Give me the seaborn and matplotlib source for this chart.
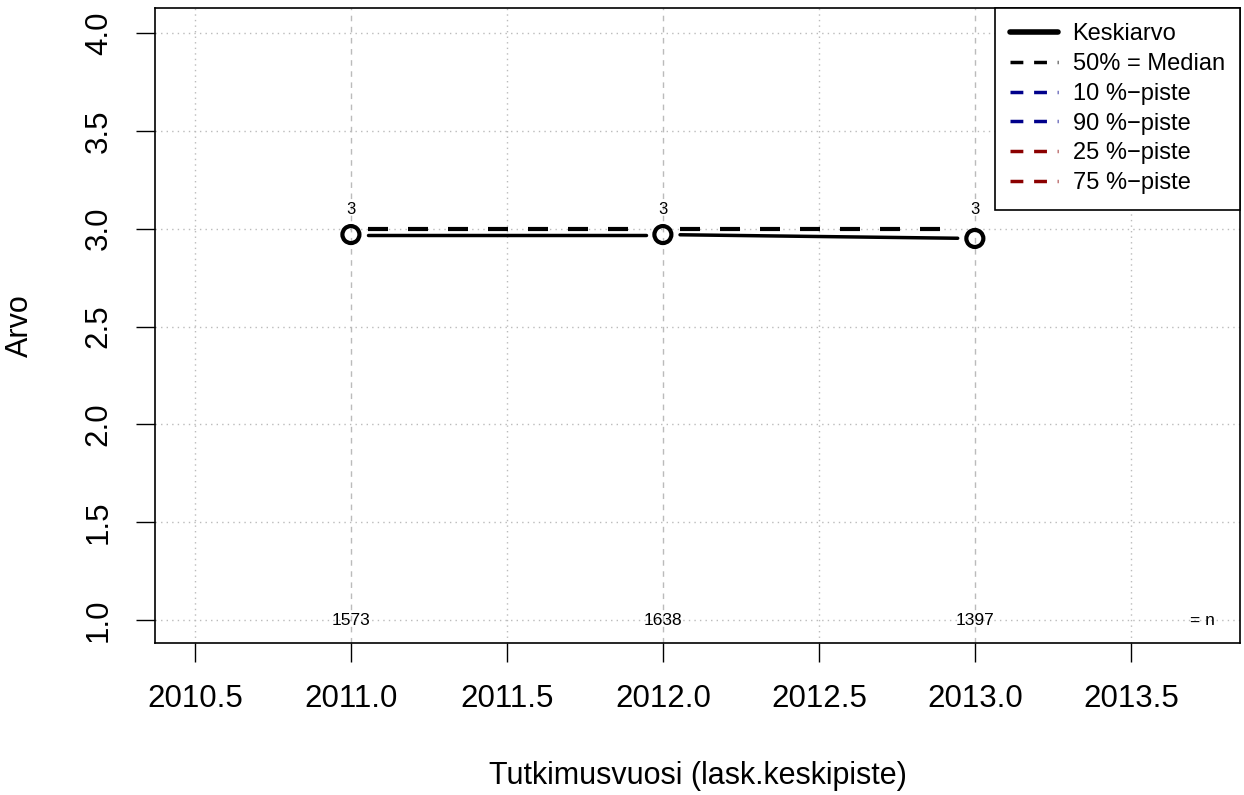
import numpy as np
import pandas as pd
import matplotlib
matplotlib.use("Agg")
import matplotlib.pyplot as plt
import seaborn as sns
from matplotlib.lines import Line2D

years = [2011, 2012, 2013]
mean_vals = [2.97, 2.97, 2.95]
median_vals = [3.0, 3.0, 3.0]
n_counts = [1573, 1638, 1397]
median_labels = ["3", "3", "3"]
x_ticks = [2010.5, 2011.0, 2011.5, 2012.0, 2012.5, 2013.0, 2013.5]
y_ticks = [1.0, 1.5, 2.0, 2.5, 3.0, 3.5, 4.0]
legend_labels = ["Keskiarvo", "50% = Median", "10 %\u2212piste", "90 %\u2212piste",
                 "25 %\u2212piste", "75 %\u2212piste"]
legend_colors = ["black", "black", "#00008B", "#00008B", "#8B0000", "#8B0000"]

sns.set_style("white")
plt.rcParams['font.family'] = ['Liberation Sans', 'DejaVu Sans']
plt.rcParams['text.color'] = 'black'
plt.rcParams['axes.labelcolor'] = 'black'
plt.rcParams['xtick.color'] = 'black'
plt.rcParams['ytick.color'] = 'black'

fig = plt.figure(figsize=(12.44, 7.95), dpi=100)
ax = fig.add_axes([0.1246, 0.191, 0.9968 - 0.1246, 0.99 - 0.191])

ax.set_xlim(2010.372, 2013.85)
ax.set_ylim(0.882, 4.128)

# grid
for yt in y_ticks:
    ax.axhline(yt, color="#BBBBBB", lw=1, ls=(0, (1, 3)), zorder=0)
for xt in x_ticks:
    if xt not in years:
        ax.axvline(xt, color="#BBBBBB", lw=1, ls=(0, (1, 3)), zorder=0)
for xt in years:
    ax.axvline(xt, color="#BBBBBB", lw=1, ls=(0, (4, 4)), zorder=0)

# segments with gaps (R type="b")
gap = 0.055
seg_rows = []
for i in range(len(years) - 1):
    x0, x1 = years[i], years[i + 1]
    for name, vals in (("mean", mean_vals), ("median", median_vals)):
        y0, y1 = vals[i], vals[i + 1]
        f0 = gap / (x1 - x0)
        f1 = 1 - f0
        seg_rows.append({"seg": f"{name}{i}", "kind": name,
                         "x": x0 + f0 * (x1 - x0), "y": y0 + f0 * (y1 - y0)})
        seg_rows.append({"seg": f"{name}{i}", "kind": name,
                         "x": x0 + f1 * (x1 - x0), "y": y0 + f1 * (y1 - y0)})
seg_df = pd.DataFrame(seg_rows)
for seg, d in seg_df.groupby("seg"):
    if d["kind"].iloc[0] == "mean":
        sns.lineplot(data=d, x="x", y="y", ax=ax, color="black", lw=2.5,
                     sort=False, estimator=None, legend=False)
    else:
        sns.lineplot(data=d, x="x", y="y", ax=ax, color="black", lw=3,
                     sort=False, estimator=None, legend=False, dashes=False,
                     linestyle=(0, (4.8, 4.8)))

pts = pd.DataFrame({"x": years, "y": mean_vals})
sns.scatterplot(data=pts, x="x", y="y", ax=ax, s=150, marker="o",
                facecolor="none", edgecolor="black", linewidth=3, zorder=5)

for x, v, lab in zip(years, median_vals, median_labels):
    ax.text(x, v + 0.06, lab, ha="center", va="bottom", fontsize=12, zorder=6)

for x, n in zip(years, n_counts):
    ax.text(x, 1.0, str(n), ha="center", va="center", fontsize=12.5)
ax.text(2013.73, 1.0, "= n", ha="center", va="center", fontsize=12.5)

for sp in ["top", "right", "left", "bottom"]:
    ax.spines[sp].set_visible(True)
    ax.spines[sp].set_color("black")
    ax.spines[sp].set_linewidth(1.2)

ax.set_xticks(x_ticks)
ax.set_xticklabels([f"{t:.1f}" for t in x_ticks], fontsize=22.5)
ax.set_yticks(y_ticks)
ax.set_yticklabels([f"{t:.1f}" for t in y_ticks], fontsize=22.5, rotation=90, va="center")
ax.tick_params(axis="both", length=13.7, width=1, color="black", direction="out",
               bottom=True, left=True, labelcolor="black")
ax.tick_params(axis="x", pad=16)
ax.tick_params(axis="y", pad=16)

ax.set_xlabel("Tutkimusvuosi (lask.keskipiste)", fontsize=22, color="black")
ax.set_ylabel("Arvo", fontsize=22, color="black")
ax.xaxis.set_label_coords(0.5, (643 - 776) / 635)
ax.xaxis.label.set_va("center")
ax.yaxis.set_label_coords((20 - 155) / 1085, 0.5)
ax.yaxis.label.set_va("center")
ax.yaxis.label.set_ha("center")

handles = []
for i, c in enumerate(legend_colors):
    if i == 0:
        handles.append(Line2D([], [], color=c, lw=4))
    else:
        handles.append(Line2D([], [], color=c, lw=2.5, ls=(0, (3.7, 3.1))))
leg = ax.legend(handles, legend_labels, loc="upper right", bbox_to_anchor=(1.0, 1.0),
                borderaxespad=0, fancybox=False, framealpha=1, edgecolor="black",
                fontsize=17, handlelength=2.03, labelspacing=0.33, borderpad=0.65,
                handletextpad=0.6)
leg.get_frame().set_linewidth(1.2)
for t in leg.get_texts():
    t.set_color("black")

fig.savefig("out.png", dpi=100)
